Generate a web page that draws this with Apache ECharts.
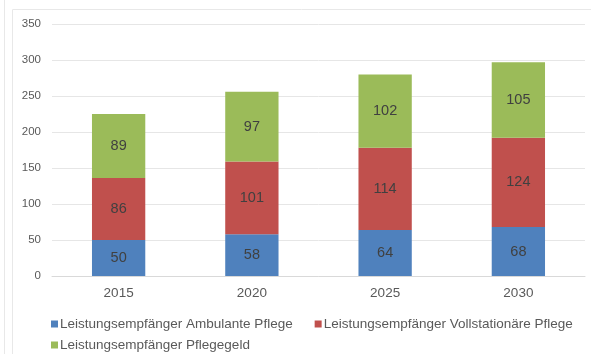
<!DOCTYPE html>
<html>
<head>
<meta charset="utf-8">
<style>
  html, body { margin: 0; padding: 0; background: #fff; }
  #chart { width: 591px; height: 354px; }
</style>
<script src="https://cdn.jsdelivr.net/npm/echarts@6/dist/echarts.min.js"></script>
</head>
<body>
<div id="chart"></div>
<script>
// Leistungsempfänger nach Leistungsart (in Tausend), Prognose
const years = ['2015', '2020', '2025', '2030'];
const ambulant = [50, 58, 64, 68];
const vollstationaer = [86, 101, 114, 124];
const pflegegeld = [89, 97, 102, 105];
const seriesNames = [
  'Leistungsempfänger Ambulante Pflege',
  'Leistungsempfänger Vollstationäre Pflege',
  'Leistungsempfänger Pflegegeld'
];
const colors = ['#4f81bd', '#c0504d', '#9bbb59'];

const font = '"Liberation Sans", Arial, sans-serif';
const chart = echarts.init(document.getElementById('chart'));

function barSeries(name, values, color) {
  return {
    name: name,
    type: 'bar',
    stack: 'total',
    data: values,
    barWidth: '40%',
    itemStyle: { color: color },
    label: {
      show: true,
      position: 'inside',
      color: '#404040',
      fontSize: 14.5,
      fontFamily: font
    }
  };
}

const legendText = { color: '#595959', fontSize: 13.5, fontFamily: font, padding: [0, 0, 0, -3] };

chart.setOption({
  animation: false,
  color: colors,
  grid: { left: 52, right: 6, top: 24, bottom: 78 },
  xAxis: {
    type: 'category',
    data: years,
    axisLine: { lineStyle: { color: '#d9d9d9' } },
    axisTick: { show: false },
    axisLabel: { color: '#595959', fontSize: 13.5, fontFamily: font, margin: 10 }
  },
  yAxis: {
    type: 'value',
    min: 0,
    max: 350,
    interval: 50,
    axisLine: { show: false },
    axisTick: { show: false },
    splitLine: { lineStyle: { color: '#e6e6e6' } },
    axisLabel: { color: '#595959', fontSize: 11.5, fontFamily: font, margin: 11 }
  },
  legend: [
    {
      data: [seriesNames[0], seriesNames[1]],
      left: 46, top: 312,
      itemWidth: 7, itemHeight: 7, itemGap: 22,
      icon: 'rect',
      textStyle: legendText
    },
    {
      data: [seriesNames[2]],
      left: 46, top: 333,
      itemWidth: 7, itemHeight: 7,
      icon: 'rect',
      textStyle: legendText
    }
  ],
  graphic: [
    { type: 'line', shape: { x1: 4.5, y1: 0, x2: 4.5, y2: 354 }, style: { stroke: '#e8e8e8', lineWidth: 1 } },
    { type: 'line', shape: { x1: 12.5, y1: 9.5, x2: 12.5, y2: 354 }, style: { stroke: '#e8e8e8', lineWidth: 1 } },
    { type: 'line', shape: { x1: 12.5, y1: 9.5, x2: 591, y2: 9.5 }, style: { stroke: '#e8e8e8', lineWidth: 1 } }
  ],
  series: [
    barSeries(seriesNames[0], ambulant, colors[0]),
    barSeries(seriesNames[1], vollstationaer, colors[1]),
    barSeries(seriesNames[2], pflegegeld, colors[2])
  ]
});
</script>
</body>
</html>
